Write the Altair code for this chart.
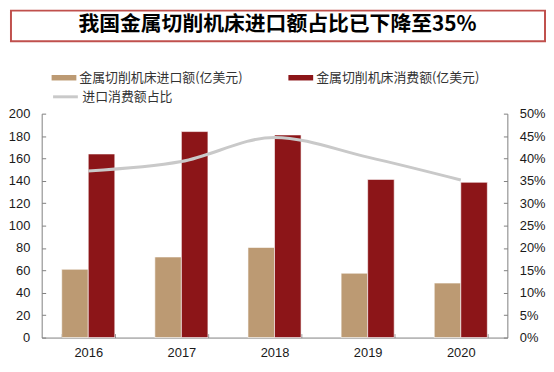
import altair as alt
import pandas as pd

years = ["2016", "2017", "2018", "2019", "2020"]
import_vals = [61, 72, 80.5, 57.5, 48.7]
consume_vals = [164, 184, 181, 141.3, 138.7]
ratio_vals = [0.372, 0.393, 0.447, 0.403, 0.352]
s_import = "金属切削机床进口额(亿美元)"
s_consume = "金属切削机床消费额(亿美元)"
s_ratio = "进口消费额占比"
title_text = "我国金属切削机床进口额占比已下降至35%"
left_ticks = list(range(0, 201, 20))
right_ticks = [i / 100 for i in range(0, 51, 5)]

c_import = "#BC9A73"
c_consume = "#8C1518"
c_line = "#C9C9C9"
c_frame = "#C0504D"
axis_col = "#7F7F7F"
txt_col = "#1A1A1A"
num_font = "Liberation Sans"
cjk_font = "Noto Sans CJK SC"

bars_df = pd.DataFrame({
    "year": years * 2,
    "series": [s_import] * len(years) + [s_consume] * len(years),
    "value": import_vals + consume_vals,
})
line_df = pd.DataFrame({"year": years, "ratio": ratio_vals, "series": [s_ratio] * len(years)})
title_df = pd.DataFrame({"t": [title_text]})

xenc = alt.X(
    "year:N", title=None,
    scale=alt.Scale(paddingInner=0.43, paddingOuter=0.215),
    axis=alt.Axis(labelAngle=0, tickBand="extent", tickSize={"expr": "-4"},
                  labelPadding=13, domainColor=axis_col, tickColor=axis_col,
                  labelFont=num_font, labelFontSize=13, labelColor=txt_col, grid=False),
)

bars = alt.Chart(bars_df).mark_bar(stroke="white", strokeWidth=0.6).encode(
    x=xenc,
    xOffset=alt.XOffset("series:N", sort=[s_import, s_consume]),
    y=alt.Y("value:Q", title=None, scale=alt.Scale(domain=[0, 200]),
            axis=alt.Axis(values=left_ticks, tickSize={"expr": "-4"}, labelPadding=16,
                          domainColor=axis_col, tickColor=axis_col, grid=False,
                          labelFont=num_font, labelFontSize=13, labelColor=txt_col)),
    color=alt.Color("series:N", sort=[s_import, s_consume],
                    scale=alt.Scale(domain=[s_import, s_consume], range=[c_import, c_consume]),
                    legend=alt.Legend(title=None, orient="none", legendX=10, legendY=-49,
                                      columns=2, columnPadding=46, direction="horizontal",
                                      symbolType="M-1,-0.22H1V0.22H-1Z", symbolSize=625,
                                      symbolStrokeWidth=0, labelOffset=3,
                                      labelFont=cjk_font, labelFontSize=13, labelColor="#333333",
                                      labelLimit=300)),
)

line = alt.Chart(line_df).mark_line(interpolate="monotone", strokeWidth=3).encode(
    x=alt.X("year:N"),
    y=alt.Y("ratio:Q", title=None, scale=alt.Scale(domain=[0, 0.5]),
            axis=alt.Axis(orient="right", format=".0%", values=right_ticks,
                          tickSize={"expr": "-4"}, labelPadding=16,
                          domainColor=axis_col, tickColor=axis_col, grid=False,
                          labelFont=num_font, labelFontSize=13, labelColor=txt_col)),
    stroke=alt.Stroke("series:N", scale=alt.Scale(domain=[s_ratio], range=[c_line]),
                      legend=alt.Legend(title=None, orient="none", legendX=10, legendY=-31,
                                        symbolType="stroke", symbolSize=625, symbolStrokeWidth=3,
                                        labelOffset=3, labelFont=cjk_font, labelFontSize=13,
                                        labelColor="#333333")),
)

frame = alt.Chart(title_df).mark_rect(fill="white", stroke=c_frame, strokeWidth=2).encode(
    x=alt.value(-31), x2=alt.value(508), y=alt.value(-104), y2=alt.value(-73)
)
title = alt.Chart(title_df).mark_text(
    font=cjk_font, fontSize=21, fontWeight="bold", color="black"
).encode(text="t:N", x=alt.value(238), y=alt.value(-89))

main = alt.layer(bars, line, frame, title).resolve_scale(y="independent").properties(
    width=470, height=226, padding=0
).configure_view(stroke="transparent")

main.save("out.html", embed_options={"renderer": "svg", "actions": False})
